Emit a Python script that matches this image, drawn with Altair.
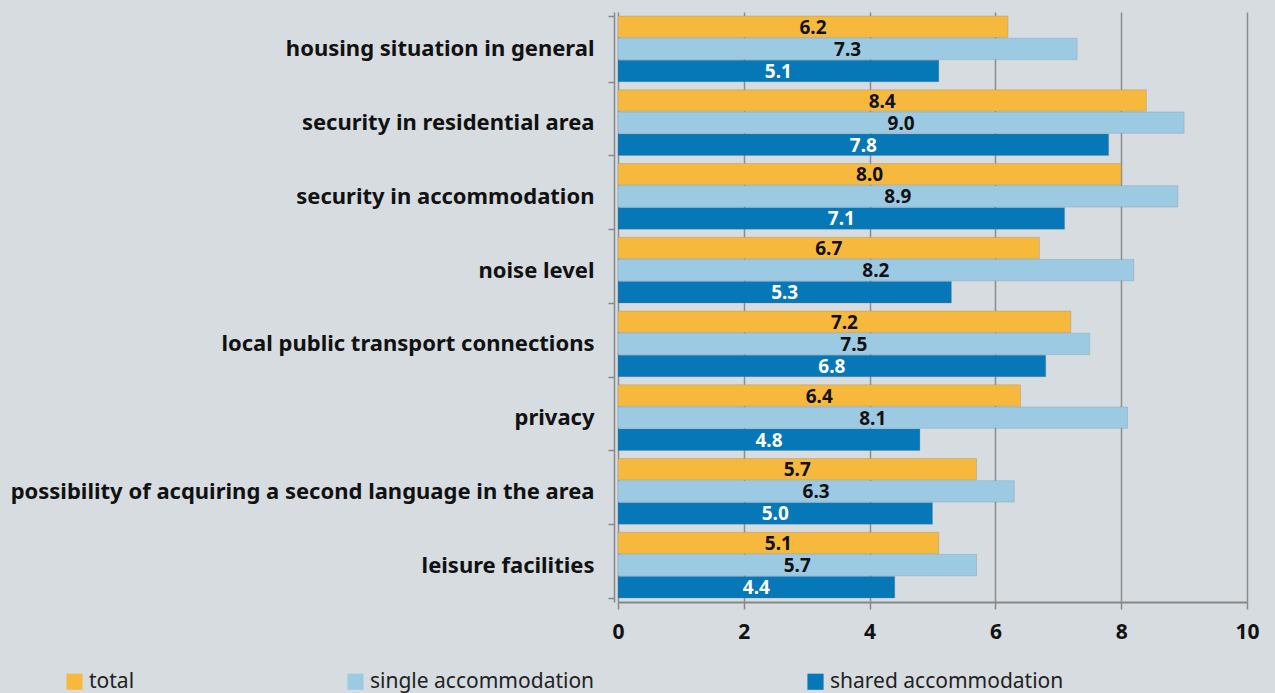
import altair as alt
import pandas as pd

categories = [
    "housing situation in general",
    "security in residential area",
    "security in accommodation",
    "noise level",
    "local public transport connections",
    "privacy",
    "possibility of acquiring a second language in the area",
    "leisure facilities",
]
series = ["total", "single accommodation", "shared accommodation"]
total = [6.2, 8.4, 8.0, 6.7, 7.2, 6.4, 5.7, 5.1]
single = [7.3, 9.0, 8.9, 8.2, 7.5, 8.1, 6.3, 5.7]
shared = [5.1, 7.8, 7.1, 5.3, 6.8, 4.8, 5.0, 4.4]
bar_colors = ["#f6b93e", "#9ccae3", "#0677b7"]
text_colors = ["#111111", "#111111", "#ffffff"]

rows = []
for i, c in enumerate(categories):
    for s, vals, tc in zip(series, [total, single, shared], text_colors):
        rows.append({"category": c, "series": s, "value": vals[i], "tc": tc})
df = pd.DataFrame(rows)

FONT = "Noto Sans"
W, H = 629, 590
LEFT, TOP = 618, 12

base = alt.Chart(df).encode(
    y=alt.Y(
        "category:N",
        sort=categories,
        scale=alt.Scale(paddingInner=0.11, paddingOuter=0.055),
        axis=alt.Axis(
            title=None,
            labelFont=FONT,
            labelFontSize=22,
            labelFontWeight="bold",
            labelColor="#111111",
            labelPadding=14,
            labelLimit=700,
            tickBand="extent",
            tickColor="#888888",
            tickWidth=1.5,
            tickSize=6,
            domainColor="#888888",
            domainWidth=1.5,
            offset=4,
            grid=False,
        ),
    ),
    yOffset=alt.YOffset("series:N", sort=series, scale=alt.Scale(paddingInner=0.03)),
)

bars = base.mark_bar(strokeWidth=1, strokeOpacity=0.25, stroke="#5a7fa0").encode(
    x=alt.X(
        "value:Q",
        scale=alt.Scale(domain=[0, 10], nice=False),
        axis=alt.Axis(
            title=None,
            values=[0, 2, 4, 6, 8, 10],
            format="d",
            labelFlush=False,
            labelFont=FONT,
            labelFontSize=21,
            labelFontWeight="bold",
            labelColor="#111111",
            labelPadding=12,
            tickColor="#888888",
            tickWidth=1.5,
            tickSize=7,
            domainColor="#888888",
            domainWidth=2,
            grid=True,
            gridColor="#8c8c8c",
            gridWidth=1.5,
        ),
    ),
    color=alt.Color(
        "series:N",
        sort=series,
        scale=alt.Scale(domain=series, range=bar_colors),
        legend=alt.Legend(
            title=None,
            orient="none",
            direction="horizontal",
            legendX=64 - LEFT,
            legendY=671 - TOP,
            symbolType="square",
            symbolSize=260,
            symbolStrokeWidth=0,
            labelFont=FONT,
            labelFontSize=21,
            labelColor="#222222",
            labelOffset=4,
            labelLimit=600,
            columnPadding=210,
            padding=0,
        ),
    ),
)

labels = base.transform_calculate(mid="datum.value / 2").mark_text(
    font=FONT, fontSize=19, fontWeight="bold", baseline="middle", align="center", dy=1
).encode(
    x=alt.X("mid:Q"),
    text=alt.Text("value:Q", format=".1f"),
    color=alt.Color("tc:N", scale=None),
)

chart = (
    alt.layer(bars, labels)
    .resolve_scale(color="independent")
    .properties(
        width=W,
        height=H,
        background="#d6dce0",
        padding={"left": LEFT, "top": TOP, "right": 1275 - LEFT - W, "bottom": 693 - TOP - H},
        autosize=alt.AutoSizeParams(type="none"),
    )
    .configure_view(stroke=None)
)

chart.save("out.html", embed_options={"renderer": "svg", "actions": False})
